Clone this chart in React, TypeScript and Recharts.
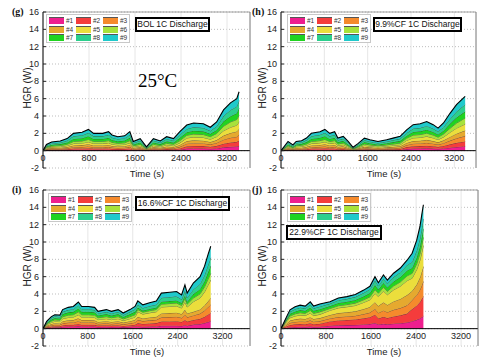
import React from 'react';
import { AreaChart, Area, XAxis, YAxis, CartesianGrid, ReferenceLine } from 'recharts';

const COLORS = ['#ee1e8e', '#f43c3c', '#f58a2c', '#e5a92f', '#ebde3c', '#a7e23b', '#20d320', '#2ccf8d', '#1fc9cb'];
const NAMES = ['#1', '#2', '#3', '#4', '#5', '#6', '#7', '#8', '#9'];
const Y_TICKS = [-2, 0, 2, 4, 6, 8, 10, 12, 14, 16];
const X_TICKS = [0, 800, 1600, 2400, 3200];

// (g) BOL 1C discharge
const gT = [0, 60, 150, 300, 420, 530, 680, 790, 880, 1040, 1140, 1200, 1300, 1420, 1510, 1570, 1690, 1800, 1920, 2040, 2150, 2270, 2380, 2500, 2620, 2790, 2910, 3020, 3140, 3260, 3370, 3410];
const g1 = [0, .04, .05, .06, .07, .10, .11, .12, .10, .10, .11, .09, .08, .09, .11, .05, .07, .02, .07, .06, .08, .07, .11, .24, .26, .25, .22, .26, .38, .44, .48, .54];
const g2 = [0, .05, .07, .08, .10, .14, .15, .17, .14, .14, .15, .13, .11, .12, .15, .07, .10, .03, .10, .08, .11, .10, .15, .27, .29, .28, .24, .30, .42, .50, .54, .61];
const g3 = [0, .06, .08, .09, .11, .16, .17, .20, .16, .16, .18, .14, .13, .14, .18, .08, .11, .04, .11, .09, .13, .11, .18, .30, .32, .31, .27, .33, .47, .55, .60, .68];
const g4 = [0, .07, .10, .11, .14, .20, .21, .25, .20, .20, .22, .18, .16, .17, .22, .11, .14, .05, .14, .11, .16, .14, .22, .30, .32, .31, .27, .33, .47, .55, .60, .68];
const g5 = [0, .08, .11, .12, .15, .22, .23, .27, .22, .22, .24, .20, .18, .19, .24, .12, .15, .05, .15, .12, .18, .15, .24, .35, .38, .37, .32, .40, .56, .66, .72, .82];
const g6 = [0, .08, .12, .13, .17, .24, .25, .29, .24, .24, .26, .22, .19, .20, .26, .13, .17, .05, .17, .13, .19, .17, .26, .32, .35, .34, .30, .36, .52, .61, .66, .75];
const g7 = [0, .11, .15, .17, .21, .30, .32, .37, .30, .30, .33, .27, .24, .26, .33, .16, .21, .07, .21, .17, .24, .21, .33, .35, .38, .37, .32, .40, .56, .66, .72, .82];
const g8 = [0, .11, .16, .18, .22, .32, .34, .39, .32, .32, .35, .29, .26, .27, .35, .17, .22, .07, .22, .18, .26, .22, .35, .38, .42, .40, .35, .43, .61, .72, .78, .88];
const g9 = [0, .11, .16, .18, .22, .32, .34, .39, .32, .32, .35, .29, .26, .27, .35, .17, .22, .07, .22, .18, .26, .22, .35, .44, .48, .47, .41, .50, .71, .83, .90, 1.02];

// (h) 9.9%CF
const hT = [0, 130, 220, 280, 380, 470, 560, 720, 810, 900, 990, 1050, 1150, 1240, 1330, 1420, 1540, 1640, 1790, 1950, 2070, 2200, 2320, 2440, 2570, 2690, 2810, 2900, 3000, 3120, 3240, 3370, 3400];
const h1 = [0, .05, .03, .05, .06, .07, .10, .11, .12, .10, .11, .07, .08, .05, .02, .04, .07, .06, .05, .06, .07, .08, .19, .24, .25, .27, .24, .21, .26, .34, .42, .49, .50];
const h2 = [0, .07, .05, .07, .08, .10, .14, .15, .17, .14, .15, .10, .12, .07, .03, .06, .10, .09, .07, .09, .10, .12, .22, .27, .28, .30, .27, .23, .29, .39, .48, .55, .56];
const h3 = [0, .08, .05, .08, .09, .12, .16, .18, .20, .16, .18, .12, .13, .08, .03, .06, .12, .10, .08, .10, .12, .13, .24, .30, .31, .34, .30, .26, .32, .43, .53, .61, .63];
const h4 = [0, .11, .07, .11, .12, .15, .20, .22, .25, .20, .22, .15, .17, .11, .04, .08, .15, .13, .11, .13, .15, .17, .24, .30, .31, .34, .30, .26, .32, .43, .53, .61, .63];
const h5 = [0, .12, .07, .12, .13, .16, .22, .24, .27, .22, .24, .16, .18, .12, .04, .09, .16, .14, .12, .14, .16, .18, .29, .36, .37, .40, .36, .31, .38, .52, .64, .73, .75];
const h6 = [0, .13, .08, .13, .14, .17, .24, .26, .29, .24, .26, .17, .20, .13, .05, .10, .17, .15, .13, .15, .17, .20, .26, .33, .34, .37, .33, .29, .35, .47, .58, .67, .69];
const h7 = [0, .16, .10, .16, .17, .22, .30, .33, .37, .30, .33, .22, .25, .16, .06, .12, .22, .19, .16, .19, .22, .25, .29, .36, .37, .40, .36, .31, .38, .52, .64, .73, .75];
const h8 = [0, .17, .11, .17, .18, .23, .32, .35, .39, .32, .35, .23, .26, .17, .06, .13, .23, .20, .17, .20, .23, .26, .31, .39, .40, .44, .39, .34, .42, .56, .69, .79, .81];
const h9 = [0, .17, .11, .17, .18, .23, .32, .35, .39, .32, .35, .23, .26, .17, .06, .13, .23, .20, .17, .20, .23, .26, .36, .45, .47, .50, .45, .39, .48, .65, .80, .92, .94];

// (i) 16.6%CF
const iT = [0, 65, 150, 210, 300, 350, 450, 540, 630, 690, 810, 920, 980, 1130, 1220, 1340, 1430, 1550, 1640, 1690, 1780, 1900, 2020, 2110, 2260, 2380, 2470, 2530, 2570, 2680, 2800, 2880, 2940, 2990];
const i1 = [0, .09, .14, .16, .16, .22, .25, .26, .31, .26, .26, .25, .20, .22, .20, .22, .18, .22, .26, .26, .22, .24, .26, .33, .34, .34, .31, .40, .33, .47, .54, .65, .77, .86];
const i2 = [0, .07, .11, .13, .12, .18, .20, .20, .24, .20, .20, .20, .16, .18, .16, .18, .14, .18, .20, .38, .33, .36, .38, .49, .50, .52, .47, .61, .49, .53, .60, .72, .85, .95];
const i3 = [0, .09, .14, .16, .16, .22, .25, .26, .31, .26, .26, .25, .20, .22, .20, .22, .18, .22, .26, .38, .33, .36, .38, .49, .50, .52, .47, .61, .49, .53, .60, .72, .85, .95];
const i4 = [0, .09, .15, .18, .17, .24, .27, .28, .34, .28, .28, .27, .22, .24, .22, .24, .20, .24, .28, .35, .30, .33, .35, .45, .46, .47, .43, .56, .45, .42, .48, .58, .68, .76];
const i5 = [0, .11, .18, .21, .20, .29, .32, .33, .40, .33, .33, .32, .26, .29, .26, .29, .23, .29, .33, .58, .50, .54, .58, .74, .76, .77, .70, .91, .74, 1.16, 1.32, 1.58, 1.87, 2.09];
const i6 = [0, .09, .15, .18, .17, .24, .27, .28, .34, .28, .28, .27, .22, .24, .22, .24, .20, .24, .28, .26, .22, .24, .26, .33, .34, .34, .31, .40, .33, .42, .48, .58, .68, .76];
const i7 = [0, .11, .18, .21, .20, .29, .32, .33, .40, .33, .33, .32, .26, .29, .26, .29, .23, .29, .33, .22, .19, .21, .22, .29, .29, .30, .27, .35, .29, .47, .54, .65, .77, .86];
const i8 = [0, .10, .17, .19, .19, .26, .29, .31, .37, .31, .31, .29, .24, .26, .24, .26, .22, .26, .31, .35, .30, .33, .35, .45, .46, .47, .43, .56, .45, .53, .60, .72, .85, .95];
const i9 = [0, .10, .17, .19, .19, .26, .29, .31, .37, .31, .31, .29, .24, .26, .24, .26, .22, .26, .31, .42, .36, .39, .42, .53, .55, .56, .51, .66, .53, .74, .84, 1.01, 1.19, 1.33];

// (j) 22.9%CF
const jT = [0, 100, 160, 250, 340, 430, 520, 580, 690, 870, 1020, 1170, 1320, 1470, 1580, 1670, 1730, 1820, 1890, 2000, 2120, 2240, 2330, 2410, 2470, 2500, 2530];
const j1 = [0, .11, .17, .20, .22, .21, .25, .21, .23, .34, .39, .41, .43, .49, .54, .66, .48, .56, .50, .58, .63, .71, .87, 1.02, 1.18, 1.31, 1.43];
const j2 = [0, .17, .26, .30, .32, .31, .37, .31, .34, .50, .56, .59, .63, .71, .78, .96, .69, .81, .73, .83, .91, 1.03, 1.39, 1.63, 1.89, 2.10, 2.29];
const j3 = [0, .15, .24, .28, .30, .29, .34, .29, .31, .34, .39, .41, .43, .49, .54, .66, .64, .74, .67, .77, .84, .95, 1.04, 1.22, 1.42, 1.57, 1.72];
const j4 = [0, .17, .26, .30, .32, .31, .37, .31, .34, .40, .46, .48, .51, .58, .64, .78, .80, .93, .84, .96, 1.05, 1.19, 1.04, 1.22, 1.42, 1.57, 1.72];
const j5 = [0, .21, .32, .38, .41, .39, .47, .39, .43, .53, .60, .63, .67, .76, .83, 1.02, 1.11, 1.30, 1.18, 1.34, 1.47, 1.66, 1.48, 1.73, 2.01, 2.23, 2.43];
const j6 = [0, .14, .22, .25, .27, .26, .31, .26, .29, .22, .25, .26, .28, .31, .34, .42, .37, .43, .39, .45, .49, .55, .57, .66, .77, .85, .93];
const j7 = [0, .15, .24, .28, .30, .29, .34, .29, .31, .28, .32, .33, .36, .40, .44, .54, .42, .50, .45, .51, .56, .63, .61, .71, .83, .92, 1.00];
const j8 = [0, .15, .24, .28, .30, .29, .34, .29, .31, .28, .32, .33, .36, .40, .44, .54, .42, .50, .45, .51, .56, .63, .70, .82, .94, 1.05, 1.14];
const j9 = [0, .14, .22, .25, .27, .26, .31, .26, .29, .22, .25, .26, .28, .31, .34, .42, .37, .43, .39, .45, .49, .55, 1.00, 1.17, 1.36, 1.51, 1.64];

const toRows = (t: number[], series: number[][]) =>
  t.map((x, i) => {
    const row: any = { t: x };
    series.forEach((s, k) => { row['s' + (k + 1)] = s[i]; });
    return row;
  });

const SANS = '"Liberation Sans", Arial, sans-serif';
const SERIF = '"Liberation Serif", "Times New Roman", serif';

const YTick = (props: any) => {
  const { x, y, payload } = props;
  return (
    <g>
      <line x1={x} x2={x + 3} y1={y} y2={y} stroke="#222" />
      <text x={x - 4} y={y} dy="0.35em" textAnchor="end" fontSize={9} fill="#222" fontFamily={SANS}>{payload.value}</text>
    </g>
  );
};

const XTick = (props: any) => {
  const { x, y, payload } = props;
  return (
    <text x={x} y={y - 10} dy="0.35em" textAnchor="middle" fontSize={9} fill="#222" fontFamily={SANS}>{payload.value}</text>
  );
};

const LegendGrid = ({ left, top }: { left: number; top: number }) => (
  <div style={{ position: 'absolute', left, top, width: 84, height: 29, border: '1px solid #c8c8c8', boxSizing: 'border-box', background: '#fff' }}>
    {NAMES.map((n, k) => (
      <div key={n} style={{ position: 'absolute', left: 2 + (k % 3) * 27, top: 2 + Math.floor(k / 3) * 8.5, display: 'flex', alignItems: 'center' }}>
        <div style={{ width: 15, height: 7, background: COLORS[k], borderTop: '1px solid #555', boxSizing: 'border-box' }} />
        <span style={{ fontSize: 6.5, fontFamily: SANS, color: '#333', marginLeft: 2, lineHeight: '7px' }}>{n}</span>
      </div>
    ))}
  </div>
);

type PanelProps = {
  left: number; top: number; width: number; axisW: number; plotW: number; xMax: number;
  rows: any[]; letter: string; title: string;
  box: { left: number; top: number; width: number };
  legend: { left: number; top: number };
  yTitleX: number; xTitleX: number;
};

const Panel = (p: PanelProps) => (
  <div style={{ position: 'absolute', left: p.left, top: p.top, width: p.width, height: 180 }}>
    <AreaChart width={p.width} height={180} data={p.rows} margin={{ top: 12, right: p.width - p.axisW - p.plotW, bottom: 0, left: 0 }}>
      <CartesianGrid vertical={false} stroke="#bdbdbd" strokeDasharray="1 2" />
      <CartesianGrid horizontal={false} stroke="#e6e6e6" />
      <XAxis dataKey="t" type="number" domain={[0, p.xMax]} ticks={X_TICKS} interval={0} height={12}
        axisLine={false} tickLine={false} tickSize={0} tickMargin={0} tick={<XTick />} allowDataOverflow />
      <YAxis type="number" domain={[-2, 16]} ticks={Y_TICKS} interval={0} width={p.axisW}
        axisLine={{ stroke: '#000' }} tickLine={false} tickSize={0} tickMargin={0} tick={<YTick />} />
      {NAMES.map((n, k) => (
        <Area key={n} type="linear" dataKey={'s' + (k + 1)} name={n} stackId="hgr"
          stroke={k === 8 ? '#000' : '#2b2b2b'} strokeWidth={k === 8 ? 1.1 : 0.6}
          fill={COLORS[k]} fillOpacity={1} dot={false} activeDot={false} isAnimationActive={false} />
      ))}
      <ReferenceLine y={0} stroke="#000" strokeWidth={1} />
      <ReferenceLine y={16} stroke="#8a8a8a" strokeWidth={0.8} />
      <ReferenceLine x={p.xMax} stroke="#666" strokeWidth={0.8} />
    </AreaChart>
    <div style={{ position: 'absolute', left: 12, top: 6, fontFamily: SERIF, fontWeight: 'bold', fontSize: 10, lineHeight: '12px', color: '#111' }}>{p.letter}</div>
    <div style={{ position: 'absolute', left: p.yTitleX, top: 88, transform: 'translate(-50%, -50%) rotate(-90deg)', fontFamily: SANS, fontSize: 10, whiteSpace: 'nowrap', color: '#222' }}>HGR (W)</div>
    <div style={{ position: 'absolute', left: p.xTitleX, top: 173, transform: 'translate(-50%, -50%)', fontFamily: SANS, fontSize: 9.5, whiteSpace: 'nowrap', color: '#222' }}>Time (s)</div>
    <LegendGrid left={p.legend.left} top={p.legend.top} />
    <div style={{ position: 'absolute', left: p.box.left, top: p.box.top, width: p.box.width, height: 15, border: '2px solid #000', boxSizing: 'border-box', background: '#fff', fontFamily: SANS, fontSize: 8.5, lineHeight: '11px', textAlign: 'center', whiteSpace: 'nowrap', color: '#111' }}>{p.title}</div>
  </div>
);

export default function App() {
  return (
    <div style={{ position: 'absolute', left: 0, top: 0, width: 479, height: 358, background: '#fff', overflow: 'hidden' }}>
      <Panel left={0} top={0} width={255} axisW={43} plotW={207} xMax={3600}
        rows={toRows(gT, [g1, g2, g3, g4, g5, g6, g7, g8, g9])} letter="(g)" title="BOL 1C Discharge"
        box={{ left: 135, top: 17, width: 75 }} legend={{ left: 46, top: 14 }} yTitleX={27} xTitleX={147} />
      <Panel left={240} top={0} width={239} axisW={41} plotW={195} xMax={3600}
        rows={toRows(hT, [h1, h2, h3, h4, h5, h6, h7, h8, h9])} letter="(h)" title="9.9%CF 1C Discharge"
        box={{ left: 133, top: 17, width: 89 }} legend={{ left: 47, top: 14 }} yTitleX={22} xTitleX={144} />
      <Panel left={0} top={178} width={255} axisW={43} plotW={207} xMax={3690}
        rows={toRows(iT, [i1, i2, i3, i4, i5, i6, i7, i8, i9])} letter="(i)" title="16.6%CF 1C Discharge"
        box={{ left: 135, top: 18, width: 95 }} legend={{ left: 48, top: 15 }} yTitleX={27} xTitleX={147} />
      <Panel left={240} top={178} width={239} axisW={41} plotW={197} xMax={3500}
        rows={toRows(jT, [j1, j2, j3, j4, j5, j6, j7, j8, j9])} letter="(j)" title="22.9%CF 1C Discharge"
        box={{ left: 46, top: 47, width: 96 }} legend={{ left: 47, top: 15 }} yTitleX={22} xTitleX={144} />
      <div style={{ position: 'absolute', left: 138, top: 70, fontFamily: SERIF, fontSize: 19, lineHeight: '22px', color: '#000' }}>25°C</div>
    </div>
  );
}
